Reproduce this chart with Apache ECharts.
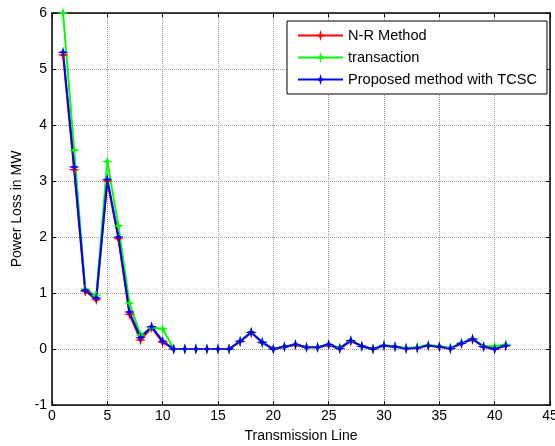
<!DOCTYPE html>
<html><head><meta charset="utf-8">
<script src="https://cdn.jsdelivr.net/npm/echarts@6/dist/echarts.min.js"></script>
<style>html,body{margin:0;padding:0;background:#fff}#c{width:555px;height:446px}</style>
</head><body><div id="c"></div>
<script>
const lines = [1,2,3,4,5,6,7,8,9,10,11,12,13,14,15,16,17,18,19,20,21,22,23,24,25,26,27,28,29,30,31,32,33,34,35,36,37,38,39,40,41];
const nrMethod = [5.25,3.2,1.03,0.88,3.0,1.97,0.62,0.16,0.38,0.12,0,0,0,0,0,0,0.13,0.29,0.11,0,0.04,0.07,0.03,0.03,0.07,0.01,0.14,0.05,0,0.06,0.04,0.01,0.02,0.06,0.04,0.01,0.1,0.17,0.04,0,0.06];
const transaction = [6.0,3.55,1.07,0.95,3.35,2.2,0.82,0.25,0.38,0.36,0,0,0,0,0,0,0.14,0.3,0.12,0,0.04,0.08,0.03,0.03,0.08,0.02,0.15,0.05,0,0.07,0.04,0.02,0.03,0.07,0.05,0.02,0.11,0.18,0.05,0.05,0.08];
const proposed = [5.3,3.25,1.05,0.91,3.03,2.0,0.66,0.2,0.4,0.14,0,0,0,0,0,0,0.14,0.3,0.12,0,0.04,0.08,0.03,0.03,0.08,0.01,0.15,0.05,0,0.06,0.04,0.01,0.02,0.06,0.04,0.01,0.1,0.18,0.04,0,0.06];
const names = ['N-R Method','transaction','Proposed method with TCSC'];
const colors = ['#ff0000','#00ff00','#0000ff'];
const star = 'path://M0,-6 L1.3,-1.3 L6,0 L1.3,1.3 L0,6 L-1.3,1.3 L-6,0 L-1.3,-1.3Z';
const font = 'Liberation Sans, Arial, sans-serif';
function mk(d){return lines.map((x,i)=>[x,d[i]]);}
const chart = echarts.init(document.getElementById('c'));
const axisCommon = {
  axisLine:{show:true,onZero:false,lineStyle:{color:'#000',width:1.5}},
  axisTick:{show:true,inside:true,length:4,lineStyle:{color:'#000'}},
};
chart.setOption({
  animation:false,
  backgroundColor:'#fff',
  grid:{left:52,right:5,top:13,bottom:41,containLabel:false,outerBoundsMode:'none'},
  legend:{
    left:287, top:21, orient:'vertical', itemGap:7,
    backgroundColor:'#fff', borderColor:'#000', borderWidth:1,
    padding:[7,10,7,10], itemWidth:45, itemHeight:14,
    textStyle:{fontFamily:font,fontSize:14.6,lineHeight:14,color:'#000'},
    data:names
  },
  xAxis:[
    Object.assign({type:'value',min:0,max:45,interval:5,name:'Transmission Line',nameLocation:'middle',nameGap:24,
      nameTextStyle:{fontFamily:font,fontSize:14,color:'#000'},
      axisLabel:{fontFamily:font,fontSize:14,color:'#000',margin:4},
      splitLine:{show:true,lineStyle:{color:'#999',type:'dotted',width:1}}},axisCommon),
    Object.assign({type:'value',position:'top',min:0,max:45,interval:5,axisLabel:{show:false},splitLine:{show:false}},axisCommon)
  ],
  yAxis:[
    Object.assign({type:'value',min:-1,max:6,interval:1,name:'Power Loss in MW',nameLocation:'middle',nameGap:27,
      nameTextStyle:{fontFamily:font,fontSize:14,color:'#000'},
      axisLabel:{fontFamily:font,fontSize:14,color:'#000',margin:5},
      splitLine:{show:true,lineStyle:{color:'#999',type:'dotted',width:1}}},axisCommon),
    Object.assign({type:'value',position:'right',min:-1,max:6,interval:1,axisLabel:{show:false},splitLine:{show:false}},axisCommon)
  ],
  series:[nrMethod,transaction,proposed].map((d,i)=>({
    name:names[i], type:'line', data:mk(d), symbol:star, symbolSize:11,
    lineStyle:{color:colors[i],width:2}, itemStyle:{color:colors[i]}
  }))
});
</script></body></html>
